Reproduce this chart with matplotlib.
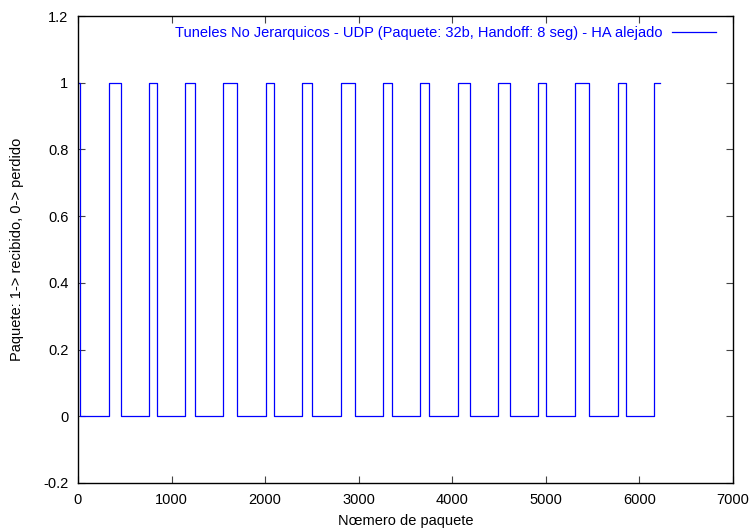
import matplotlib
matplotlib.use("Agg")
import matplotlib.pyplot as plt
from matplotlib.ticker import MultipleLocator, FuncFormatter

plt.rcParams['font.family'] = ['Liberation Sans', 'DejaVu Sans']

# Packet sequence numbers where reception resumes / stops
lost_from = [21, 456, 841, 1250, 1702, 2098, 2504, 2957, 3359, 3754, 4186, 4617, 5005, 5464, 5860]
received_from = [0, 334, 762, 1144, 1550, 2006, 2398, 2808, 3263, 3658, 4058, 4489, 4919, 5308, 5768, 6159]
last_packet = 6220

series_label = "Tuneles No Jerarquicos - UDP (Paquete: 32b, Handoff: 8 seg) - HA alejado"
x_label = "Nœmero de paquete"
y_label = "Paquete: 1-> recibido, 0-> perdido"

# Build the step signal from the state changes
events = sorted([(x, 1) for x in received_from] + [(x, 0) for x in lost_from])
xs = [e[0] for e in events] + [last_packet]
ys = [e[1] for e in events] + [events[-1][1]]

fs = 10.5

fig = plt.figure(figsize=(7.53, 5.29), dpi=100)
ax = fig.add_axes([78 / 753, 46 / 529, 655 / 753, 467 / 529])
ax.plot(xs, ys, drawstyle='steps-post', color='#0000ff', lw=0.9, label=series_label)

ax.set_xlim(0, 7000)
ax.set_ylim(-0.2, 1.2)
ax.xaxis.set_major_locator(MultipleLocator(1000))
ax.yaxis.set_major_locator(MultipleLocator(0.2))
ax.yaxis.set_major_formatter(FuncFormatter(lambda v, p: ('%g' % round(v, 1))))
ax.tick_params(direction='in', length=5, width=0.8, color='#444444',
               top=True, right=True, labelsize=fs, pad=7)
for s in ax.spines.values():
    s.set_linewidth(1.0)
    s.set_color('black')

ax.set_xlabel(x_label, fontsize=fs, labelpad=5)
ax.set_ylabel(y_label, fontsize=fs, labelpad=14)

leg = ax.legend(loc='upper right', frameon=False, fontsize=fs, handlelength=3.0,
                handletextpad=0.7, markerfirst=False, borderaxespad=0.3,
                bbox_to_anchor=(0.99, 1.0))
for t in leg.get_texts():
    t.set_color('#0000ff')

fig.savefig('out.png', dpi=100)
